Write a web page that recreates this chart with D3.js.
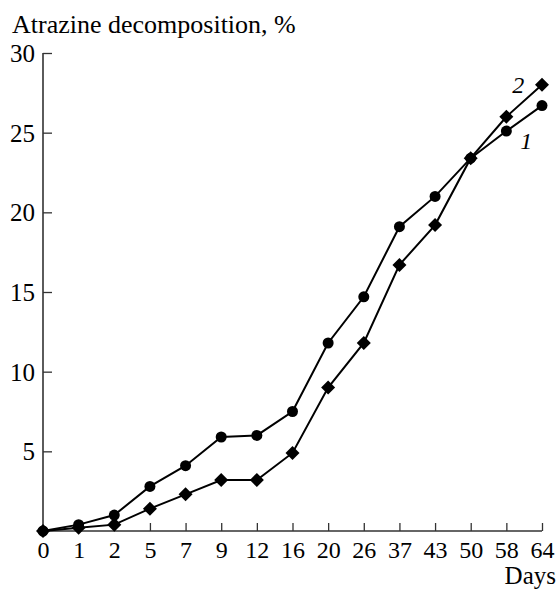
<!DOCTYPE html>
<html>
<head>
<meta charset="utf-8">
<script src="https://cdn.jsdelivr.net/npm/d3@7"></script>
<style>
body { margin: 0; background: #fff; }
text { font-family: "Liberation Serif", "DejaVu Serif", serif; fill: #000; }
</style>
</head>
<body>
<svg width="558" height="589"></svg>
<script>
// day labels along x (evenly spaced categories)
var days = ["0", "1", "2", "5", "7", "9", "12", "16", "20", "26", "37", "43", "50", "58", "64"];
// curve 1 (circles)
var series1 = [0, 0.4, 1.0, 2.8, 4.1, 5.9, 6.0, 7.5, 11.8, 14.7, 19.1, 21.0, 23.4, 25.1, 26.7];
// curve 2 (diamonds)
var series2 = [0, 0.2, 0.4, 1.4, 2.3, 3.2, 3.2, 4.9, 9.0, 11.8, 16.7, 19.2, 23.4, 26.0, 28.0];
var yTicks = [5, 10, 15, 20, 25, 30];

var svg = d3.select("svg");
var plotLeft = 43, plotRight = 542, plotTop = 53, plotBottom = 531;

var x = d3.scalePoint().domain(days).range([plotLeft, plotRight]);
var y = d3.scaleLinear().domain([0, 30]).range([plotBottom, plotTop]);

// axes
var yAxis = d3.axisLeft(y).tickValues(yTicks).tickSize(-9).tickPadding(8);
var gy = svg.append("g").attr("transform", "translate(" + plotLeft + ",0)").call(yAxis);
gy.select(".domain").remove();
gy.selectAll("line").attr("stroke", "#333").attr("stroke-width", 1.3);
gy.selectAll("text").attr("font-size", 25).attr("font-family", "Liberation Serif").attr("dy", "0.34em");

var xAxis = d3.axisBottom(x).tickSize(-8).tickPadding(10);
var gx = svg.append("g").attr("transform", "translate(0," + plotBottom + ")").call(xAxis);
gx.select(".domain").remove();
gx.selectAll("line").attr("stroke", "#333").attr("stroke-width", 1.3)
	.filter(function(d) { return d == "0"; }).remove();
gx.selectAll("text").attr("font-size", 24).attr("font-family", "Liberation Serif");

svg.append("line").attr("x1", plotLeft).attr("x2", plotLeft).attr("y1", y(30)).attr("y2", y(0))
	.attr("stroke", "#333").attr("stroke-width", 1.6);
svg.append("line").attr("x1", plotLeft).attr("x2", plotRight).attr("y1", y(0)).attr("y2", y(0))
	.attr("stroke", "#333").attr("stroke-width", 1.6);

// data lines
var line = d3.line()
	.x(function(d, i) { return x(days[i]); })
	.y(function(d) { return y(d); });

svg.append("path").datum(series1).attr("d", line)
	.attr("fill", "none").attr("stroke", "#000").attr("stroke-width", 2);
svg.append("path").datum(series2).attr("d", line)
	.attr("fill", "none").attr("stroke", "#000").attr("stroke-width", 2);

svg.selectAll(".dot").data(series1).enter().append("circle")
	.attr("class", "dot")
	.attr("cx", function(d, i) { return x(days[i]); })
	.attr("cy", function(d) { return y(d); })
	.attr("r", 5.5).attr("fill", "#000");

var diamond = d3.symbol().type(d3.symbolDiamond2).size(125);
svg.selectAll(".dia").data(series2).enter().append("path")
	.attr("class", "dia")
	.attr("d", diamond)
	.attr("transform", function(d, i) { return "translate(" + x(days[i]) + "," + y(d) + ")"; })
	.attr("fill", "#000");

// curve labels
svg.append("text").attr("x", x("58") + 6).attr("y", y(28) + 8)
	.attr("font-size", 24).attr("font-style", "italic").text("2");
svg.append("text").attr("x", x("58") + 14).attr("y", y(25.1) + 18)
	.attr("font-size", 24).attr("font-style", "italic").text("1");

// titles
svg.append("text").attr("x", 12).attr("y", 33).attr("font-size", 26)
	.text("Atrazine decomposition, %");
svg.append("text").attr("x", 556).attr("y", 584).attr("text-anchor", "end")
	.attr("font-size", 25).text("Days");
</script>
</body>
</html>
